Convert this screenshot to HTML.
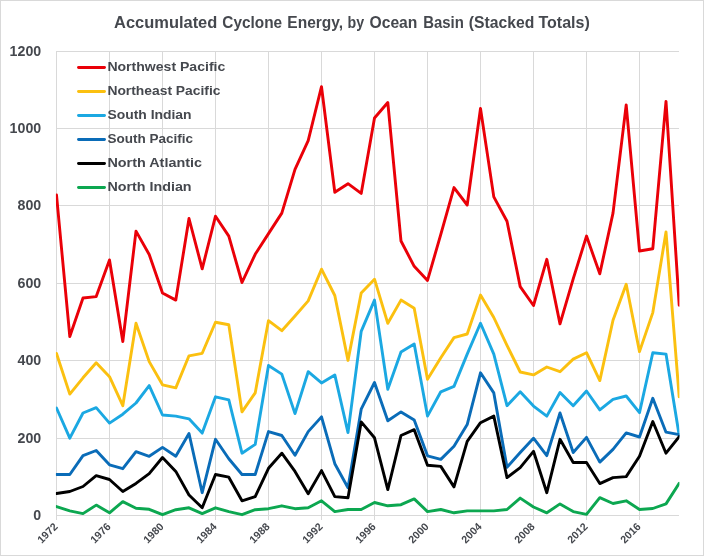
<!DOCTYPE html>
<html><head><meta charset="utf-8"><title>Accumulated Cyclone Energy, by Ocean Basin</title>
<style>
html,body{margin:0;padding:0;background:#fff;}
svg{display:block;}
text{font-family:"Liberation Sans",sans-serif;font-weight:bold;fill:#45484e;}
.s{fill:none;stroke-width:2.9;stroke-linejoin:round;stroke-linecap:round;}
.g{stroke:#d9d9d9;stroke-width:1;fill:none;shape-rendering:crispEdges;}
</style></head><body>
<svg width="706" height="560" viewBox="0 0 706 560">
<rect x="0" y="0" width="706" height="560" fill="#fff"/>
<rect x="0.5" y="0.5" width="703" height="555" fill="#fff" stroke="#d9d9d9" stroke-width="1" shape-rendering="crispEdges"/>

<line class="g" x1="56" x2="679" y1="515.5" y2="515.5"/>
<line class="g" x1="56" x2="679" y1="438.5" y2="438.5"/>
<line class="g" x1="56" x2="679" y1="360.5" y2="360.5"/>
<line class="g" x1="56" x2="679" y1="283.5" y2="283.5"/>
<line class="g" x1="56" x2="679" y1="205.5" y2="205.5"/>
<line class="g" x1="56" x2="679" y1="128.5" y2="128.5"/>
<line class="g" x1="56" x2="679" y1="51.5" y2="51.5"/>
<line class="g" x1="56.5" x2="56.5" y1="51" y2="519.5"/>
<line class="g" x1="109.5" x2="109.5" y1="51" y2="519.5"/>
<line class="g" x1="162.5" x2="162.5" y1="51" y2="519.5"/>
<line class="g" x1="215.5" x2="215.5" y1="51" y2="519.5"/>
<line class="g" x1="268.5" x2="268.5" y1="51" y2="519.5"/>
<line class="g" x1="321.5" x2="321.5" y1="51" y2="519.5"/>
<line class="g" x1="374.5" x2="374.5" y1="51" y2="519.5"/>
<line class="g" x1="427.5" x2="427.5" y1="51" y2="519.5"/>
<line class="g" x1="480.5" x2="480.5" y1="51" y2="519.5"/>
<line class="g" x1="533.5" x2="533.5" y1="51" y2="519.5"/>
<line class="g" x1="586.5" x2="586.5" y1="51" y2="519.5"/>
<line class="g" x1="639.5" x2="639.5" y1="51" y2="519.5"/>
<text y="28.3" font-size="17.4"><tspan x="114.1" textLength="103.2" lengthAdjust="spacingAndGlyphs">Accumulated</tspan> <tspan x="222.3" textLength="59.8" lengthAdjust="spacingAndGlyphs">Cyclone</tspan> <tspan x="287.3" textLength="55.8" lengthAdjust="spacingAndGlyphs">Energy,</tspan> <tspan x="347.5" textLength="16.6" lengthAdjust="spacingAndGlyphs">by</tspan> <tspan x="369.5" textLength="47.9" lengthAdjust="spacingAndGlyphs">Ocean</tspan> <tspan x="423.2" textLength="40.6" lengthAdjust="spacingAndGlyphs">Basin</tspan> <tspan x="468.8" textLength="65.5" lengthAdjust="spacingAndGlyphs">(Stacked</tspan> <tspan x="538.4" textLength="51.4" lengthAdjust="spacingAndGlyphs">Totals)</tspan></text>
<text x="41.2" y="519.5" font-size="14.3" text-anchor="end" textLength="7.9" lengthAdjust="spacingAndGlyphs">0</text>
<text x="41.2" y="442.5" font-size="14.3" text-anchor="end" textLength="23.7" lengthAdjust="spacingAndGlyphs">200</text>
<text x="41.2" y="364.5" font-size="14.3" text-anchor="end" textLength="23.7" lengthAdjust="spacingAndGlyphs">400</text>
<text x="41.2" y="287.5" font-size="14.3" text-anchor="end" textLength="23.7" lengthAdjust="spacingAndGlyphs">600</text>
<text x="41.2" y="209.5" font-size="14.3" text-anchor="end" textLength="23.7" lengthAdjust="spacingAndGlyphs">800</text>
<text x="41.2" y="132.5" font-size="14.3" text-anchor="end" textLength="31.6" lengthAdjust="spacingAndGlyphs">1000</text>
<text x="41.2" y="55.5" font-size="14.3" text-anchor="end" textLength="31.6" lengthAdjust="spacingAndGlyphs">1200</text>
<text transform="translate(58.3,527.3) rotate(-45)" font-size="10.7" text-anchor="end" textLength="23.5" lengthAdjust="spacingAndGlyphs">1972</text>
<text transform="translate(111.3,527.3) rotate(-45)" font-size="10.7" text-anchor="end" textLength="23.5" lengthAdjust="spacingAndGlyphs">1976</text>
<text transform="translate(164.3,527.3) rotate(-45)" font-size="10.7" text-anchor="end" textLength="23.5" lengthAdjust="spacingAndGlyphs">1980</text>
<text transform="translate(217.3,527.3) rotate(-45)" font-size="10.7" text-anchor="end" textLength="23.5" lengthAdjust="spacingAndGlyphs">1984</text>
<text transform="translate(270.3,527.3) rotate(-45)" font-size="10.7" text-anchor="end" textLength="23.5" lengthAdjust="spacingAndGlyphs">1988</text>
<text transform="translate(323.3,527.3) rotate(-45)" font-size="10.7" text-anchor="end" textLength="23.5" lengthAdjust="spacingAndGlyphs">1992</text>
<text transform="translate(376.3,527.3) rotate(-45)" font-size="10.7" text-anchor="end" textLength="23.5" lengthAdjust="spacingAndGlyphs">1996</text>
<text transform="translate(429.3,527.3) rotate(-45)" font-size="10.7" text-anchor="end" textLength="23.5" lengthAdjust="spacingAndGlyphs">2000</text>
<text transform="translate(482.3,527.3) rotate(-45)" font-size="10.7" text-anchor="end" textLength="23.5" lengthAdjust="spacingAndGlyphs">2004</text>
<text transform="translate(535.3,527.3) rotate(-45)" font-size="10.7" text-anchor="end" textLength="23.5" lengthAdjust="spacingAndGlyphs">2008</text>
<text transform="translate(588.3,527.3) rotate(-45)" font-size="10.7" text-anchor="end" textLength="23.5" lengthAdjust="spacingAndGlyphs">2012</text>
<text transform="translate(641.3,527.3) rotate(-45)" font-size="10.7" text-anchor="end" textLength="23.5" lengthAdjust="spacingAndGlyphs">2016</text>
<clipPath id="pc"><rect x="55.9" y="40" width="623.5" height="480"/></clipPath><g clip-path="url(#pc)">
<polyline class="s" stroke="#ea0008" points="56.5,195.0 69.8,336.5 83.0,298.0 96.2,296.6 109.5,259.9 122.8,341.5 136.0,231.1 149.2,254.5 162.5,293.0 175.8,300.1 189.0,218.5 202.2,268.8 215.5,216.2 228.8,236.1 242.0,282.5 255.2,254.3 268.5,233.6 281.8,213.1 295.0,169.4 308.2,140.6 321.5,86.7 334.8,192.2 348.0,183.7 361.2,193.4 374.5,118.0 387.8,102.5 401.0,241.0 414.2,266.3 427.5,280.4 440.8,234.4 454.0,187.6 467.2,205.0 480.5,108.5 493.8,196.9 507.0,221.2 520.2,286.6 533.5,305.5 546.8,259.3 560.0,323.9 573.2,278.9 586.5,236.1 599.8,273.8 613.0,213.1 626.2,104.9 639.5,251.0 652.8,248.7 666.0,101.4 679.2,305.2"/>
<polyline class="s" stroke="#fbc010" points="56.5,353.5 69.8,394.1 83.0,377.8 96.2,362.8 109.5,376.7 122.8,405.7 136.0,323.3 149.2,361.6 162.5,384.8 175.8,387.9 189.0,355.8 202.2,353.3 215.5,322.2 228.8,324.7 242.0,411.9 255.2,392.9 268.5,320.6 281.8,330.7 295.0,316.0 308.2,300.9 321.5,269.2 334.8,295.5 348.0,360.4 361.2,293.0 374.5,279.2 387.8,323.3 401.0,300.1 414.2,308.2 427.5,379.2 440.8,357.7 454.0,337.6 467.2,334.0 480.5,295.1 493.8,317.5 507.0,345.4 520.2,372.0 533.5,374.9 546.8,367.0 560.0,371.7 573.2,359.1 586.5,352.7 599.8,380.6 613.0,320.2 626.2,284.3 639.5,351.6 652.8,312.6 666.0,231.9 679.2,396.8"/>
<polyline class="s" stroke="#1ba8e2" points="56.5,408.0 69.8,438.2 83.0,413.0 96.2,407.6 109.5,423.1 122.8,414.2 136.0,403.0 149.2,385.6 162.5,415.0 175.8,416.1 189.0,418.8 202.2,433.1 215.5,396.8 228.8,399.9 242.0,453.2 255.2,444.4 268.5,365.5 281.8,374.1 295.0,413.6 308.2,371.7 321.5,382.9 334.8,374.9 348.0,432.6 361.2,331.4 374.5,300.1 387.8,389.2 401.0,351.9 414.2,344.0 427.5,416.1 440.8,391.8 454.0,386.4 467.2,354.1 480.5,323.3 493.8,354.1 507.0,405.7 520.2,391.8 533.5,406.1 546.8,416.1 560.0,392.5 573.2,405.7 586.5,391.0 599.8,409.9 613.0,399.3 626.2,396.0 639.5,412.6 652.8,352.7 666.0,354.1 679.2,435.5"/>
<polyline class="s" stroke="#0a6cb8" points="56.5,474.5 69.8,474.5 83.0,455.6 96.2,450.5 109.5,464.8 122.8,468.7 136.0,451.7 149.2,456.3 162.5,447.4 175.8,456.3 189.0,433.5 202.2,492.7 215.5,439.3 228.8,458.7 242.0,474.5 255.2,474.5 268.5,431.6 281.8,435.5 295.0,455.2 308.2,431.6 321.5,416.9 334.8,463.7 348.0,487.7 361.2,409.2 374.5,382.5 387.8,420.8 401.0,411.9 414.2,420.0 427.5,455.8 440.8,459.4 454.0,446.3 467.2,424.6 480.5,372.8 493.8,392.9 507.0,467.2 520.2,452.5 533.5,438.2 546.8,455.6 560.0,413.0 573.2,452.5 586.5,437.4 599.8,462.1 613.0,449.4 626.2,432.9 639.5,437.0 652.8,398.3 666.0,432.2 679.2,434.7"/>
<polyline class="s" stroke="#000" points="56.5,493.5 69.8,491.5 83.0,486.5 96.2,475.7 109.5,479.5 122.8,491.5 136.0,483.4 149.2,473.7 162.5,457.5 175.8,471.4 189.0,495.0 202.2,507.8 215.5,474.5 228.8,477.2 242.0,500.8 255.2,496.6 268.5,468.3 281.8,453.2 295.0,471.4 308.2,493.7 321.5,470.6 334.8,496.6 348.0,497.7 361.2,421.9 374.5,437.8 387.8,489.6 401.0,435.5 414.2,429.7 427.5,465.2 440.8,466.4 454.0,486.9 467.2,441.3 480.5,422.7 493.8,416.1 507.0,477.6 520.2,467.6 533.5,451.3 546.8,492.7 560.0,439.3 573.2,462.5 586.5,462.5 599.8,483.6 613.0,477.6 626.2,476.6 639.5,456.3 652.8,421.5 666.0,453.2 679.2,436.6"/>
<polyline class="s" stroke="#0ca750" points="56.5,506.6 69.8,510.9 83.0,513.6 96.2,505.1 109.5,512.8 122.8,501.6 136.0,508.2 149.2,509.3 162.5,514.7 175.8,509.7 189.0,507.8 202.2,513.6 215.5,507.8 228.8,511.6 242.0,514.7 255.2,509.7 268.5,508.7 281.8,505.8 295.0,508.7 308.2,507.8 321.5,500.8 334.8,511.6 348.0,509.5 361.2,509.5 374.5,502.5 387.8,505.8 401.0,504.7 414.2,498.9 427.5,511.6 440.8,509.5 454.0,512.8 467.2,510.9 480.5,510.9 493.8,510.9 507.0,509.5 520.2,498.1 533.5,507.0 546.8,512.8 560.0,503.9 573.2,511.6 586.5,514.3 599.8,497.7 613.0,503.5 626.2,500.8 639.5,509.5 652.8,508.5 666.0,503.9 679.2,483.4"/>
</g>
<line class="s" stroke="#ea0008" x1="78.5" x2="104.5" y1="67.5" y2="67.5"/>
<text x="107.4" y="70.5" font-size="13.3" textLength="117.9" lengthAdjust="spacingAndGlyphs">Northwest Pacific</text>
<line class="s" stroke="#fbc010" x1="78.5" x2="104.5" y1="91.5" y2="91.5"/>
<text x="107.4" y="94.5" font-size="13.3" textLength="113.1" lengthAdjust="spacingAndGlyphs">Northeast Pacific</text>
<line class="s" stroke="#1ba8e2" x1="78.5" x2="104.5" y1="115.5" y2="115.5"/>
<text x="107.4" y="118.5" font-size="13.3" textLength="84.2" lengthAdjust="spacingAndGlyphs">South Indian</text>
<line class="s" stroke="#0a6cb8" x1="78.5" x2="104.5" y1="139.5" y2="139.5"/>
<text x="107.4" y="142.5" font-size="13.3" textLength="85.6" lengthAdjust="spacingAndGlyphs">South Pacific</text>
<line class="s" stroke="#000" x1="78.5" x2="104.5" y1="163.5" y2="163.5"/>
<text x="107.4" y="166.5" font-size="13.3" textLength="94.6" lengthAdjust="spacingAndGlyphs">North Atlantic</text>
<line class="s" stroke="#0ca750" x1="78.5" x2="104.5" y1="187.5" y2="187.5"/>
<text x="107.4" y="190.5" font-size="13.3" textLength="84.2" lengthAdjust="spacingAndGlyphs">North Indian</text>
</svg></body></html>
